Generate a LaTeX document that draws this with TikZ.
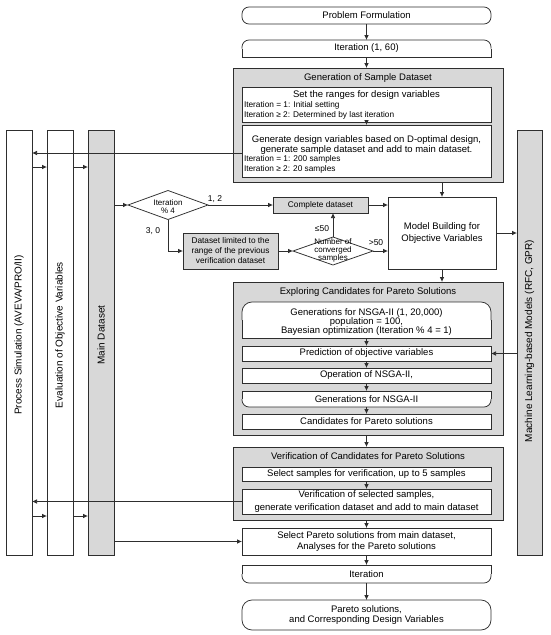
\documentclass[tikz,border=0pt]{standalone}
\usepackage{fontspec}
\setmainfont{Liberation Sans}
\usetikzlibrary{shapes.geometric,arrows.meta,calc}
\definecolor{gfill}{HTML}{D8D8D8}
\definecolor{lc}{HTML}{2E2E2E}
\newcommand{\fmain}{\fontsize{9.5}{10}\selectfont}
\newcommand{\fsmall}{\fontsize{8.3}{10}\selectfont}
\tikzset{
  ln/.style={draw=lc, line width=0.75pt},
  arr/.style={ln, -{Latex[length=5pt,width=4.6pt]}},
  box/.style={ln, fill=white, inner sep=0pt, outer sep=0pt, font=\fmain, align=center},
  gbox/.style={box, fill=gfill},
  txt/.style={inner sep=0pt, outer sep=0pt, font=\fmain, align=center},
  ctxt/.style={txt, rotate=90, font=\fontsize{10}{11}\selectfont},
  stxt/.style={inner sep=0pt, outer sep=0pt, font=\fsmall, anchor=west},
  lbl/.style={inner sep=0pt, outer sep=0pt, font=\fontsize{8.5}{10}\selectfont},
  dia/.style={diamond, ln, fill=white, inner sep=0pt, outer sep=0pt, minimum width=80pt},
}
\newcommand{\looptop}[5]{%
  \fill[white, rounded corners=#5] (#1,#2) rectangle (#3,#4);
  \fill[white] (#1,{(#2+#4)/2}) rectangle (#3,#4);
  \draw[ln, rounded corners=#5] (#1,{(#2+#4)/2}) -- (#1,#2) -- (#3,#2) -- (#3,{(#2+#4)/2});
  \draw[ln] (#1,{(#2+#4)/2}) -- (#1,#4) -- (#3,#4) -- (#3,{(#2+#4)/2});}
\newcommand{\loopbot}[5]{%
  \fill[white, rounded corners=#5] (#1,#2) rectangle (#3,#4);
  \fill[white] (#1,#2) rectangle (#3,{(#2+#4)/2});
  \draw[ln, rounded corners=#5] (#1,{(#2+#4)/2}) -- (#1,#4) -- (#3,#4) -- (#3,{(#2+#4)/2});
  \draw[ln] (#1,{(#2+#4)/2}) -- (#1,#2) -- (#3,#2) -- (#3,{(#2+#4)/2});}
\begin{document}
\begin{tikzpicture}[x=1pt,y=-1pt]
\fill[white] (0,0) rectangle (550,635);
\useasboundingbox (0,0) rectangle (550,635);

% side columns
\node[box, minimum width=26pt, minimum height=425pt] (psim) at (19,342.5) {};
\node[box, minimum width=26pt, minimum height=425pt] (eval) at (60,342.5) {};
\node[gbox, minimum width=26pt, minimum height=425pt] (md) at (101,342.5) {};
\node[gbox, minimum width=25pt, minimum height=425pt] (ml) at (529.5,342.5) {};
\node[ctxt] (psimt) at (19,335) {Process Simulation (AVEVA/PRO/II)};
\node[ctxt] (evalt) at (60,335) {Evaluation of Objective Variables};
\node[ctxt] (mdt) at (101,335) {Main Dataset};
\node[ctxt] (mlt) at (529.5,341) {Machine Learning-based Models (RFC, GPR)};

% containers
\node[gbox, minimum width=270pt, minimum height=114pt] (gen) at (368,125) {};
\node[txt] (gent) at (368,78) {Generation of Sample Dataset};
\node[gbox, minimum width=270pt, minimum height=153pt] (exp) at (368,358.5) {};
\node[txt] (expt) at (368,292) {Exploring Candidates for Pareto Solutions};
\node[gbox, minimum width=270pt, minimum height=73pt] (ver) at (368,483.5) {};
\node[txt] (vert) at (368,456) {Verification of Candidates for Pareto Solutions};

% top flow
\node[box, rounded corners=7pt, minimum width=249pt, minimum height=17pt] (pf) at (366.5,15.5) {Problem Formulation};
\looptop{242}{40}{491}{57}{7pt}
\node[txt, minimum width=249pt, minimum height=17pt] (it1) at (366.5,48.5) {Iteration (1, 60)};

\node[box, minimum width=249pt, minimum height=35pt] (set) at (366.5,104.5) {};
\node[txt] (setT) at (366.5,95) {Set the ranges for design variables};
\node[stxt] (setA) at (244,105) {Iteration = 1: Initial setting};
\node[stxt] (setB) at (244,115) {Iteration ≥ 2: Determined by last iteration};

\node[box, minimum width=249pt, minimum height=52pt] (gd) at (366.5,151) {};
\node[txt] (gdT) at (366.5,145) {Generate design variables based on D-optimal design,\\generate sample dataset and add to main dataset.};
\node[stxt] (gdA) at (244,159.5) {Iteration = 1: 200 samples};
\node[stxt] (gdB) at (244,169.5) {Iteration ≥ 2: 20 samples};

% middle
\node[box, minimum width=108pt, minimum height=72pt, font=\fontsize{9.5}{11.6}\selectfont] (mb) at (442,233) {Model Building for\\Objective Variables};
\node[gbox, font=\fontsize{8.3}{10}\selectfont, minimum width=95pt, minimum height=16pt] (cd) at (320.5,205) {Complete dataset};
\node[gbox, font=\fontsize{8.3}{10}\selectfont, minimum width=95pt, minimum height=36pt] (dl) at (230.5,251) {Dataset limited to the\\range of the previous\\verification dataset};
\node[dia, minimum height=29pt] (d1) at (168,205) {};
\node[txt, font=\fontsize{8}{7.8}\selectfont] (d1t) at (168,207) {Iteration\\\% 4};
\node[dia, minimum height=28pt] (d2) at (333,251) {};
\node[txt, font=\fontsize{8}{7.6}\selectfont] (d2t) at (333,250.5) {Number of\\converged\\samples};
\node[lbl] (l12) at (215,199) {1, 2};
\node[lbl] (l30) at (153,231) {3, 0};
\node[lbl] (lle) at (322,229) {≤50};
\node[lbl] (lgt) at (376,243) {>50};

% exploring
\looptop{242}{302}{491}{338}{10pt}
\node[txt, minimum width=249pt, minimum height=36pt] (g1) at (366.5,320) {};
\node[txt, font=\fontsize{9.5}{9.3}\selectfont] (g1t) at (366.5,322) {Generations for NSGA-II (1, 20,000)\\population = 100,\\Bayesian optimization (Iteration \% 4 = 1)};
\node[box, minimum width=249pt, minimum height=15pt] (pr) at (366.5,353.5) {Prediction of objective variables};
\node[box, minimum width=249pt, minimum height=15pt] (op) at (366.5,375.5) {Operation of NSGA-II,};
\loopbot{242}{391}{491}{407}{7pt}
\node[txt, minimum width=249pt, minimum height=16pt] (g2) at (366.5,399) {Generations for NSGA-II};
\node[box, minimum width=249pt, minimum height=15pt] (cp) at (366.5,421.5) {Candidates for Pareto solutions};

% verification
\node[box, minimum width=249pt, minimum height=14pt] (ss) at (366.5,474) {Select samples for verification, up to 5 samples};
\node[box, minimum width=249pt, minimum height=25pt, font=\fontsize{9.5}{12.5}\selectfont] (vs) at (366.5,501.5) {Verification of selected samples,\\generate verification dataset and add to main dataset};

% bottom
\node[box, minimum width=249pt, minimum height=27pt, font=\fontsize{9.5}{10.5}\selectfont] (sp) at (366.5,541.5) {Select Pareto solutions from main dataset,\\Analyses for the Pareto solutions};
\loopbot{242}{565}{491}{583}{7pt}
\node[txt, minimum width=249pt, minimum height=18pt] (it2) at (366.5,574) {Iteration};
\node[box, rounded corners=10pt, minimum width=249pt, minimum height=30pt, font=\fontsize{9.5}{10.7}\selectfont] (ps2) at (366.5,615) {Pareto solutions,\\and Corresponding Design Variables};

% connectors
\draw[arr] (pf.south) -- (it1.north);
\draw[arr] (it1.south) -- (it1.south |- gen.north);
\draw[arr] (set.south) -- (gd.north);
\draw[arr] (gd.west |- 0,153) -- (psim.east |- 0,153);
\draw[arr] (psim.east |- 0,167) -- (eval.west |- 0,167);
\draw[arr] (eval.east |- 0,167) -- (md.west |- 0,167);
\draw[arr] (md.east |- d1.west) -- (d1.west);
\draw[arr] (d1.east) -- (cd.west);
\draw[arr] (d1.south) |- (dl.west);
\draw[arr] (dl.east) -- (d2.west);
\draw[arr] (d2.north) -- (d2.north |- cd.south);
\draw[arr] (d2.east) -- (d2.east -| mb.west);
\draw[arr] (cd.east) -- (cd.east -| mb.west);
\draw[arr] (mb.north |- gen.south) -- (mb.north);
\draw[arr] (mb.east) -- (mb.east -| ml.west);
\draw[arr] (mb.south) -- (mb.south |- exp.north);
\draw[arr] (g1.south) -- (pr.north);
\draw[arr] (pr.south) -- (op.north);
\draw[arr] (op.south) -- (g2.north);
\draw[arr] (g2.south) -- (cp.north);
\draw[arr] (ml.west |- pr.east) -- (pr.east);
\draw[arr] (cp.south |- exp.south) -- (cp.south |- ver.north);
\draw[arr] (ss.south) -- (vs.north);
\draw[arr] (vs.west) -- (vs.west -| psim.east);
\draw[arr] (psim.east |- 0,516) -- (eval.west |- 0,516);
\draw[arr] (eval.east |- 0,516) -- (md.west |- 0,516);
\draw[arr] (sp.north |- ver.south) -- (sp.north);
\draw[arr] (sp.west -| md.east) -- (sp.west);
\draw[arr] (sp.south) -- (it2.north);
\draw[arr] (it2.south) -- (ps2.north);
\end{tikzpicture}
\end{document}
